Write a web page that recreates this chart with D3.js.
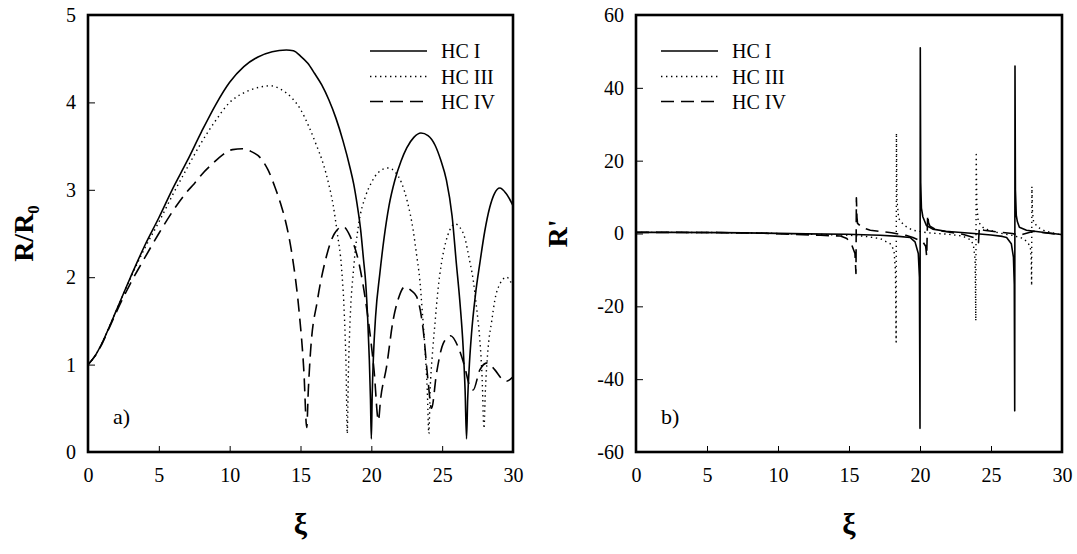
<!DOCTYPE html>
<html>
<head>
<meta charset="utf-8">
<script src="https://cdn.jsdelivr.net/npm/d3@7"></script>
<style>
  html, body { margin: 0; padding: 0; background: #fff; }
  svg { display: block; }
  text { font-family: "Liberation Serif", "Times New Roman", serif; fill: #000; }
</style>
</head>
<body>
<svg id="chart" width="1077" height="554"></svg>
<script>
// ---------- DATA ----------
const seriesNames = ["HC I", "HC III", "HC IV"];
const xTicks = [0, 5, 10, 15, 20, 25, 30];
const yTicksA = [0, 1, 2, 3, 4, 5];
const yTicksB = [-60, -40, -20, 0, 20, 40, 60];

// Panel a) R/R0 vs xi
const a_HC1 = [[0,1],[0.5,1.1],[1,1.25],[1.5,1.43],[2,1.62],[3,2.0],[4,2.36],[5,2.68],[6,3.02],[7,3.33],[8,3.66],[9,3.97],[10,4.23],[11,4.41],[12,4.52],[13,4.58],[14,4.6],[14.5,4.59],[15,4.53],[15.5,4.45],[16,4.33],[16.5,4.2],[17,4.03],[17.5,3.82],[18,3.56],[18.5,3.25],[18.75,3.07],[19,2.83],[19.24,2.55],[19.45,2.2],[19.6,1.94],[19.75,1.5],[19.86,1.05],[19.94,0.6],[20.0,0.15],[20.06,0.65],[20.15,1.1],[20.3,1.55],[20.6,2.04],[20.9,2.45],[21.25,2.82],[21.66,3.11],[22.1,3.33],[22.5,3.48],[23,3.6],[23.5,3.65],[24,3.62],[24.5,3.51],[24.9,3.34],[25.3,3.11],[25.7,2.7],[26.0,2.16],[26.25,1.72],[26.48,1.2],[26.62,0.7],[26.72,0.15],[26.8,0.6],[26.92,1.0],[27.07,1.35],[27.35,1.8],[27.66,2.16],[28.0,2.52],[28.36,2.8],[28.7,2.96],[29.07,3.02],[29.5,2.96],[30,2.82]];
const a_HC3 = [[0,1],[0.5,1.1],[1,1.25],[1.5,1.43],[2,1.62],[3,1.99],[4,2.33],[5,2.63],[6,2.95],[7,3.25],[8,3.54],[9,3.79],[10,4.0],[11,4.11],[12,4.17],[12.9,4.19],[13.6,4.15],[14.4,4.05],[15,3.92],[15.6,3.72],[16.1,3.52],[16.6,3.3],[17,3.06],[17.3,2.83],[17.6,2.5],[17.9,2.1],[18.1,1.55],[18.22,0.95],[18.3,0.21],[18.38,0.9],[18.5,1.5],[18.75,2.1],[19.1,2.6],[19.6,2.93],[20,3.08],[20.5,3.2],[21.2,3.25],[21.7,3.2],[22.13,3.08],[22.55,2.86],[22.95,2.54],[23.2,2.25],[23.42,1.97],[23.6,1.6],[23.78,1.2],[23.95,0.7],[24.06,0.21],[24.15,0.7],[24.3,1.1],[24.48,1.45],[24.7,1.85],[24.95,2.16],[25.25,2.4],[25.54,2.54],[25.9,2.61],[26.25,2.57],[26.6,2.45],[26.9,2.22],[27.19,1.97],[27.45,1.62],[27.66,1.28],[27.82,0.85],[27.95,0.27],[28.05,0.7],[28.25,1.2],[28.5,1.5],[28.72,1.74],[29.1,1.93],[29.54,2.0],[30,1.89]];
const a_HC4 = [[0,1],[0.5,1.1],[1,1.24],[1.5,1.42],[2,1.6],[3,1.93],[4,2.22],[5,2.5],[6,2.76],[7,2.98],[7.5,3.07],[8,3.17],[8.8,3.3],[9.5,3.4],[10.2,3.46],[10.9,3.47],[11.5,3.44],[12.2,3.36],[12.7,3.23],[13.2,3.03],[13.6,2.84],[13.9,2.67],[14.4,2.26],[14.9,1.61],[15.24,0.92],[15.44,0.28],[15.55,0.7],[15.7,1.13],[16.2,1.74],[16.8,2.22],[17.4,2.5],[18.0,2.58],[18.5,2.47],[19.1,2.18],[19.7,1.61],[20.2,0.92],[20.5,0.36],[20.65,0.6],[21.07,0.97],[21.54,1.51],[21.9,1.75],[22.36,1.89],[22.8,1.85],[23.19,1.78],[23.66,1.4],[24.0,0.82],[24.25,0.5],[24.6,0.9],[25.07,1.24],[25.59,1.33],[26.13,1.2],[26.6,0.97],[26.95,0.75],[27.19,0.71],[27.66,0.94],[28.18,1.02],[28.72,0.94],[29.2,0.84],[29.54,0.81],[30,0.86]];

// Panel b) R' vs xi
const b_HC1 = [[0,0.3],[3,0.3],[6,0.25],[9,0.1],[12,-0.1],[14.85,-0.2],[17.2,-0.46],[18.5,-0.8],[19.3,-1.1],[19.65,-2.3],[19.88,-5.5],[19.96,-12],[20.0,-53.5],[20.02,51],[20.05,14],[20.1,7],[20.2,4.6],[20.45,2.2],[20.9,1.2],[21.8,0.6],[23.8,0],[25,-0.4],[25.8,-0.8],[26.1,-1.1],[26.43,-2.8],[26.58,-6.5],[26.64,-14],[26.67,-48.7],[26.69,46],[26.72,12],[26.78,5],[26.86,3.2],[27.0,1.7],[27.5,0.9],[28.9,0.2],[29.8,-0.2],[30,-0.3]];
const b_HC3 = [[0,0.3],[3,0.3],[6,0.25],[9,0.1],[12,-0.2],[14.5,-0.4],[16,-0.7],[17.2,-1.4],[17.9,-2.8],[18.17,-4.6],[18.27,-10],[18.32,-29.8],[18.34,27.6],[18.38,9],[18.5,4.1],[18.8,2.6],[19.06,1.8],[19.5,0.9],[20.5,0.2],[22,-0.2],[23,-0.7],[23.6,-1.8],[23.76,-3.2],[23.88,-7],[23.93,-24],[23.96,21.7],[24.0,8],[24.1,3.2],[24.5,1.4],[25.5,0.2],[26.5,-0.5],[27.3,-1.4],[27.6,-2.6],[27.77,-3.7],[27.83,-7],[27.86,-14.3],[27.88,12.9],[27.92,6],[28.0,3.2],[28.3,1.7],[28.8,0.7],[29.5,0],[30,-0.4]];
const b_HC4 = [[0,0.3],[3,0.3],[6,0.25],[9,0.05],[11,-0.2],[13,-0.5],[14.4,-0.7],[14.85,-1.4],[15.2,-3.2],[15.42,-5.5],[15.49,-11],[15.52,9.8],[15.56,4.5],[15.6,2.8],[15.9,1.7],[16.5,0.9],[17.2,0.55],[18,0.2],[19,-0.5],[19.5,-1.1],[20.2,-2.3],[20.4,-3.5],[20.47,-6.3],[20.54,5.1],[20.6,3],[20.7,2.0],[21.2,0.9],[22,0.4],[23,-0.2],[23.8,-1.1],[24.05,-2],[24.12,-2.5],[24.18,1.7],[24.5,0.9],[25.5,0.4],[26.5,0],[27,-0.5],[27.25,-0.2],[28,0.6],[28.5,0.3],[29.5,-0.1],[30,-0.3]];

// ---------- STYLES ----------
const styles = [
  { width: 1.6, dash: null },
  { width: 1.4, dash: "1.4,3.6" },
  { width: 1.6, dash: "13,7" }
];

const svg = d3.select("#chart");
const fmt = d => String(d);   // plain hyphen minus, integers

function panel(opts) {
  const { x0, x1, y0, y1, yDomain, yTicks, series, curve, title, titleX, sub, label, legX } = opts;
  const x = d3.scaleLinear().domain([0, 30]).range([x0, x1]);
  const y = d3.scaleLinear().domain(yDomain).range([y1, y0]);
  const g = svg.append("g");

  const cid = "clip" + Math.round(x0);
  svg.append("clipPath").attr("id", cid).append("rect")
    .attr("x", x0).attr("y", y0).attr("width", x1 - x0).attr("height", y1 - y0);

  const line = d3.line().x(d => x(d[0])).y(d => y(d[1])).curve(curve);
  series.forEach((s, i) => {
    g.append("path").datum(s)
      .attr("clip-path", `url(#${cid})`)
      .attr("fill", "none").attr("stroke", "#000")
      .attr("stroke-width", styles[i].width)
      .attr("stroke-dasharray", styles[i].dash)
      .attr("stroke-linejoin", "round")
      .attr("d", line);
  });

  const ax = g.append("g").attr("transform", `translate(0,${y1})`)
    .call(d3.axisBottom(x).tickValues(xTicks).tickFormat(fmt).tickSizeInner(-6).tickSizeOuter(0).tickPadding(15.5));
  const ay = g.append("g").attr("transform", `translate(${x0},0)`)
    .call(d3.axisLeft(y).tickValues(yTicks).tickFormat(fmt).tickSizeInner(-7).tickSizeOuter(0).tickPadding(12));
  [ax, ay].forEach(a => {
    a.attr("font-family", null).attr("font-size", null);
    a.select(".domain").remove();
    a.selectAll("line").attr("stroke", "#000").attr("stroke-width", 1);
    a.selectAll("text").style("font-family", '"Liberation Serif", serif').style("font-size", "20px").attr("fill", "#000");
  });

  g.append("rect").attr("x", x0).attr("y", y0).attr("width", x1 - x0).attr("height", y1 - y0)
    .attr("fill", "none").attr("stroke", "#000").attr("stroke-width", 2.6);

  g.append("text").attr("x", (x0 + x1) / 2).attr("y", 534)
    .attr("text-anchor", "middle").style("font-size", "30px").style("font-weight", "bold").text("ξ");

  const yt = g.append("text").attr("transform", `translate(${titleX},${(y0 + y1) / 2}) rotate(-90)`)
    .attr("text-anchor", "middle").style("font-size", "28px").style("font-weight", "bold");
  yt.append("tspan").text(title);
  if (sub) yt.append("tspan").attr("dy", 6).style("font-size", "17px").text(sub);

  g.append("text").attr("x", x0 + 25).attr("y", 424).style("font-size", "22px").text(label);

  const rows = [51, 76.5, 101.5];
  seriesNames.forEach((n, i) => {
    g.append("line").attr("x1", legX).attr("x2", legX + 57).attr("y1", rows[i]).attr("y2", rows[i])
      .attr("stroke", "#000").attr("stroke-width", styles[i].width).attr("stroke-dasharray", styles[i].dash);
    g.append("text").attr("x", legX + 71).attr("y", rows[i] + 7).style("font-size", "20px").text(n);
  });
}

panel({ x0: 88, x1: 513, y0: 15, y1: 452, yDomain: [0, 5], yTicks: yTicksA,
  series: [a_HC1, a_HC3, a_HC4], curve: d3.curveMonotoneX,
  title: "R/R", sub: "0", titleX: 33, label: "a)", legX: 370 });

panel({ x0: 636, x1: 1062, y0: 15, y1: 452, yDomain: [-60, 60], yTicks: yTicksB,
  series: [b_HC1, b_HC3, b_HC4], curve: d3.curveLinear,
  title: "R'", sub: null, titleX: 567, label: "b)", legX: 661 });
</script>
</body>
</html>
